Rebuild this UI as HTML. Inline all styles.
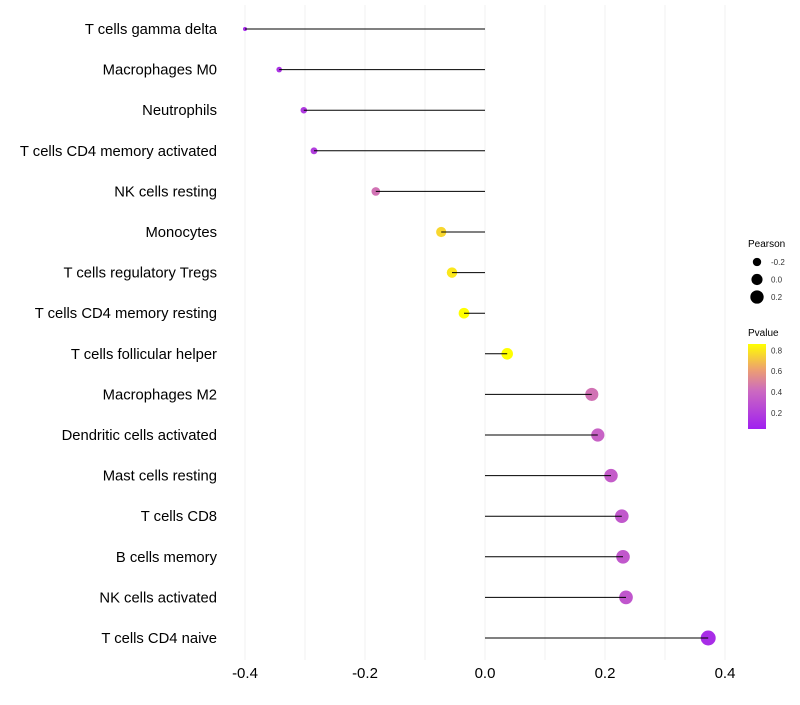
<!DOCTYPE html>
<html><head><meta charset="utf-8"><style>
body{margin:0;background:#fff;font-family:"Liberation Sans",sans-serif}
</style></head><body>
<svg id="chart" width="800" height="700" xmlns="http://www.w3.org/2000/svg" font-family="Liberation Sans, sans-serif">
<g id="grid"></g>
<g id="marks"></g>
<g id="ylabels"></g>
<g id="xlabels"></g>
<g id="legend">
<text x="748" y="247" font-size="10" fill="#000">Pearson</text>
<text x="748" y="336" font-size="10" fill="#000">Pvalue</text>
<defs><linearGradient id="pg" x1="0" y1="1" x2="0" y2="0">
<stop offset="0" stop-color="#a020f0"/><stop offset="0.45" stop-color="#cc6ac0"/><stop offset="0.7" stop-color="#eda070"/><stop offset="1" stop-color="#ffff00"/></linearGradient></defs>
<rect x="748" y="344" width="18" height="85" fill="url(#pg)"/>
</g>
</svg>
<script>
const categories=["T cells gamma delta","Macrophages M0","Neutrophils","T cells CD4 memory activated","NK cells resting","Monocytes","T cells regulatory  Tregs ","T cells CD4 memory resting","T cells follicular helper","Macrophages M2","Dendritic cells activated","Mast cells resting","T cells CD8","B cells memory","NK cells activated","T cells CD4 naive"];
const pearson=[-0.40,-0.343,-0.302,-0.285,-0.182,-0.073,-0.055,-0.035,0.037,0.178,0.188,0.21,0.228,0.23,0.235,0.372];
const pvalue=[0.1,0.15,0.18,0.2,0.45,0.76,0.8,0.86,0.87,0.45,0.38,0.35,0.33,0.33,0.32,0.12];
const xTicks=[-0.4,-0.2,0.0,0.2,0.4];
const xTickLabels=["-0.4","-0.2","0.0","0.2","0.4"];
const sizeLegend=[-0.2,0.0,0.2];
const pLegend=[0.2,0.4,0.6,0.8];
const NS="http://www.w3.org/2000/svg";
const X=v=>485+v*600;
const Y=i=>29+i*40.6;
const R=v=>Math.sqrt(Math.max(4,31+67.5*v));
const stops=[[0.055,[160,32,240]],[0.42,[204,106,192]],[0.62,[237,160,112]],[0.86,[255,255,0]]];
function col(p){if(p<=stops[0][0])return `rgb(${stops[0][1]})`;for(let k=1;k<stops.length;k++){if(p<=stops[k][0]){const a=stops[k-1],b=stops[k],t=(p-a[0])/(b[0]-a[0]);return `rgb(${a[1].map((c,j)=>Math.round(c+(b[1][j]-c)*t))})`;}}return `rgb(${stops[stops.length-1][1]})`;}
const PY=p=>428-(p-0.055)/(0.86-0.055)*84;
function el(t,a,p){const e=document.createElementNS(NS,t);for(const k in a)e.setAttribute(k,a[k]);p.appendChild(e);return e;}
const grid=document.getElementById('grid'),marks=document.getElementById('marks'),yl=document.getElementById('ylabels'),xl=document.getElementById('xlabels'),lg=document.getElementById('legend');
for(let v=-0.4;v<=0.41;v+=0.1){const g=el('line',{x1:X(v),x2:X(v),y1:5,y2:660,stroke:'#f0f0f0','stroke-width':1},grid);

}
xTicks.forEach((v,i)=>{const t=el('text',{x:X(v),y:678,'font-size':15,'text-anchor':'middle',fill:'#000'},xl);t.textContent=xTickLabels[i];

});
categories.forEach((c,i)=>{
const t=el('text',{x:217,y:Y(i)+5,'font-size':14.8,'text-anchor':'end',fill:'#000'},yl);t.textContent=c;
t.setAttribute('xml:space','preserve');


const p=el('circle',{cx:X(pearson[i]),cy:Y(i),r:R(pearson[i]),fill:col(pvalue[i])},marks);


const l=el('line',{x1:X(0),x2:X(pearson[i]),y1:Y(i),y2:Y(i),stroke:'#000','stroke-width':1},marks);


});
sizeLegend.forEach((v,i)=>{const y=262+i*17.5;
const c=el('circle',{cx:757,cy:y,r:R(v),fill:'#000'},lg);


const t=el('text',{x:771,y:y+3,'font-size':8,fill:'#333'},lg);t.textContent=v.toFixed(1);

});
pLegend.forEach(v=>{const y=PY(v);
const t=el('text',{x:771,y:y+3,'font-size':8,fill:'#333'},lg);t.textContent=v.toFixed(1);

});
</script>
</body></html>
